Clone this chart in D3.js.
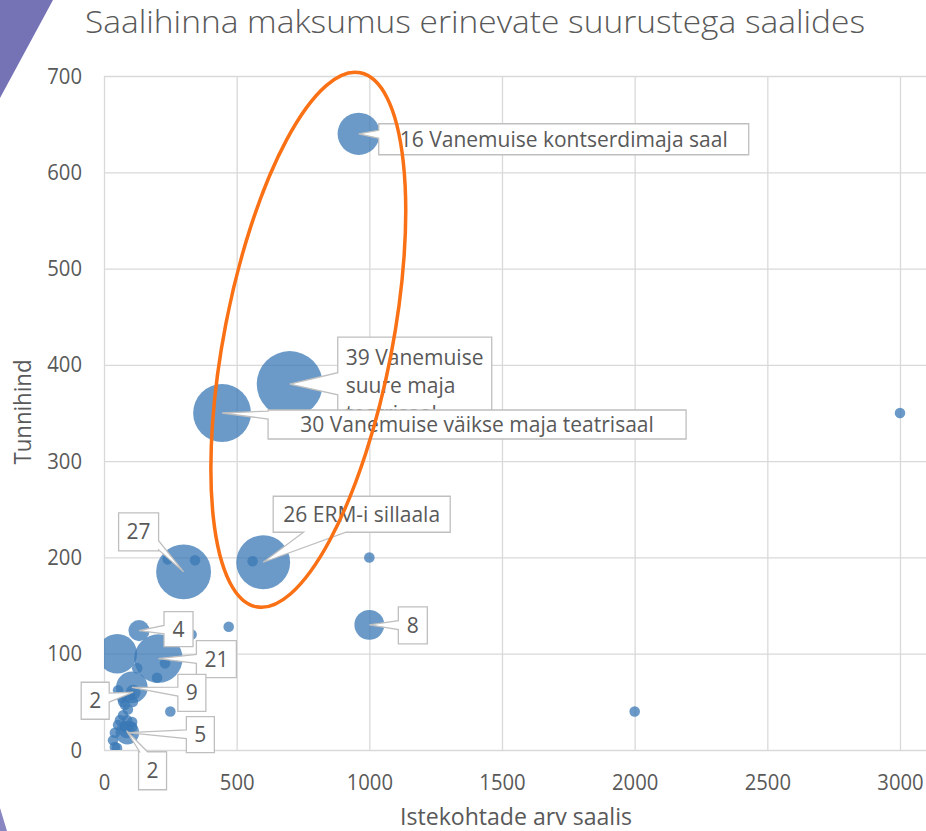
<!DOCTYPE html>
<html>
<head>
<meta charset="utf-8">
<script src="https://cdn.jsdelivr.net/npm/d3@7"></script>
<style>
    body { margin: 0; background: #fff; }
    text { font-family: "Open Sans", sans-serif; fill: #595959; }
</style>
</head>
<body>
<div id="chart"></div>
<script>
"use strict";

// hall data: seats in hall, hourly price, bubble size (shown in label), hall name
const seats = [960, 700, 445, 600, 300, 1000, 132, 205, 105, 110, 88, 85, 50,
    240, 343, 560, 1000, 470, 3000, 2000, 250, 200, 230, 330, 125,
    53, 68, 72, 98, 109, 79, 90, 72, 60, 87, 106, 53, 79, 106, 41, 34, 41, 49];
const prices = [640, 380, 350, 195, 185, 130, 124, 95, 65, 60, 18, 20, 100,
    198, 197, 196, 200, 128, 350, 40, 40, 75, 90, 120, 85,
    62, 54, 50, 57, 50, 47, 42, 36, 31, 31, 29, 26, 24, 24, 18, 10, 3, 2];
const sizes = [16, 39, 30, 26, 27, 8, 4, 21, 9, 2, 5, 2, 14,
    1, 1, 1, 1, 1, 1, 1, 1, 1, 1, 1, 1,
    1, 1, 1, 1, 1, 1, 1, 1, 1, 1, 1, 1, 1, 1, 1, 1, 1, 1];
// null = no data label, "" = label shows only the number
const names = ["Vanemuise kontserdimaja saal", "Vanemuise suure maja teatrisaal",
    "Vanemuise väikse maja teatrisaal", "ERM-i sillaala", "", "", "", "", "", "", "", ""];

const xTicks = [0, 500, 1000, 1500, 2000, 2500, 3000];
const yTicks = [0, 100, 200, 300, 400, 500, 600, 700];

const title = "Saalihinna maksumus erinevate suurustega saalides";
const xTitle = "Istekohtade arv saalis";
const yTitle = "Tunnihind";

// layout of the callout boxes (pixel offset from the bubble centre)
const callouts = [
    { dx: 20, dy: -10, w: 370, h: 31 },
    { dx: 48, dy: -47, w: 154, h: 92 },
    { dx: 46, dy: -3, w: 418, h: 29 },
    { dx: 10, dy: -66, w: 177, h: 36 },
    { dx: -65, dy: -59, w: 40, h: 38 },
    { dx: 29, dy: -18, w: 29, h: 37 },
    { dx: 25, dy: -19, w: 29, h: 35 },
    { dx: 38, dy: -18, w: 40, h: 37 },
    { dx: 46, dy: -13, w: 28, h: 37 },
    { dx: -52, dy: -10, w: 28, h: 37 },
    { dx: 59, dy: -16, w: 28, h: 36 },
    { dx: 12, dy: 21, w: 28, h: 38 }
];

// orange highlight ring (centre in data units)
const ring = { seats: 770, price: 426, rx: 84, ry: 272, angle: 11 };

const msm = {
    width: 926,
    height: 831,
    left: 104,
    right: 926,
    top: 76,
    bottom: 750
};

const svg = d3.select("#chart")
    .append("svg")
    .attr("width", msm.width)
    .attr("height", msm.height);

// purple slide decoration in the corners
svg.append("path")
    .attr("d", "M0,0 L53,0 L0,98 Z")
    .attr("fill", "#7672b6");
svg.append("path")
    .attr("d", "M0,808 L7,831 L0,831 Z")
    .attr("fill", "#8a86c2");

let xScale = d3.scaleLinear().domain([0, 3000]).range([msm.left, 900]);
let yScale = d3.scaleLinear().domain([0, 700]).range([msm.bottom, msm.top]);
let rScale = d3.scaleSqrt().domain([0, 39]).range([0, 33]);

// squeeze text a bit, the original looks condensed
function squeeze(sel, f) {
    sel.each(function () {
        let len = this.getComputedTextLength();
        d3.select(this).attr("textLength", len * f).attr("lengthAdjust", "spacingAndGlyphs");
    });
}

// gridlines
svg.append("g")
    .attr("transform", "translate(0," + msm.bottom + ")")
    .call(d3.axisBottom(xScale).tickValues(xTicks).tickSize(-(msm.bottom - msm.top)).tickFormat(""));
svg.append("g")
    .attr("transform", "translate(" + msm.left + ",0)")
    .call(d3.axisLeft(yScale).tickValues(yTicks).tickSize(-(msm.right - msm.left)).tickFormat(""));
svg.selectAll(".domain").remove();
svg.selectAll(".tick line").attr("stroke", "#d9d9d9").attr("stroke-width", 1.3);

// tick labels
let xAxis = svg.append("g")
    .attr("transform", "translate(0," + msm.bottom + ")")
    .call(d3.axisBottom(xScale).tickValues(xTicks).tickSize(0).tickPadding(24).tickFormat(d3.format("d")));
let yAxis = svg.append("g")
    .attr("transform", "translate(" + msm.left + ",0)")
    .call(d3.axisLeft(yScale).tickValues(yTicks).tickSize(0).tickPadding(22).tickFormat(d3.format("d")));
xAxis.select(".domain").remove();
yAxis.select(".domain").remove();
svg.selectAll(".tick text")
    .attr("font-family", "Open Sans, sans-serif")
    .attr("font-size", 22)
    .attr("fill", "#595959")
    .call(squeeze, 0.92);

// bubbles
let data = seats.map((s, i) => ({ seats: s, price: prices[i], size: sizes[i], name: names[i], idx: i }));
let drawOrder = data.slice().sort((a, b) => b.size - a.size);

svg.append("clipPath").attr("id", "plotClip")
    .append("rect")
    .attr("x", msm.left).attr("y", msm.top)
    .attr("width", msm.right - msm.left).attr("height", msm.bottom - msm.top);

svg.append("g")
    .attr("clip-path", "url(#plotClip)")
    .selectAll("circle")
    .data(drawOrder)
    .enter()
    .append("circle")
    .attr("cx", d => xScale(d.seats))
    .attr("cy", d => yScale(d.price))
    .attr("r", d => rScale(d.size))
    .attr("fill", "#3a78b6")
    .attr("fill-opacity", 0.75);

// callout outline: box plus a wedge pointing at the bubble
function calloutPath(x0, y0, w, h, tx, ty) {
    let x1 = x0 + w, y1 = y0 + h;
    let cx = x0 + w / 2, cy = y0 + h / 2;
    let vx = tx - cx, vy = ty - cy;
    let side, pos;
    let tX = vx !== 0 ? (vx > 0 ? (x1 - cx) / vx : (x0 - cx) / vx) : Infinity;
    let tY = vy !== 0 ? (vy > 0 ? (y1 - cy) / vy : (y0 - cy) / vy) : Infinity;
    if (tX < tY) { side = vx > 0 ? "right" : "left"; pos = cy + vy * tX; }
    else { side = vy > 0 ? "bottom" : "top"; pos = cx + vx * tY; }
    let edgeLen = (side === "left" || side === "right") ? h : w;
    let hw = Math.max(4, edgeLen * 0.12);
    let lo = (side === "left" || side === "right") ? y0 : x0;
    let hi = lo + edgeLen;
    pos = Math.min(Math.max(pos, lo + hw + 1), hi - hw - 1);
    let p = [[x0, y0]];
    if (side === "top") p.push([pos - hw, y0], [tx, ty], [pos + hw, y0]);
    p.push([x1, y0]);
    if (side === "right") p.push([x1, pos - hw], [tx, ty], [x1, pos + hw]);
    p.push([x1, y1]);
    if (side === "bottom") p.push([pos + hw, y1], [tx, ty], [pos - hw, y1]);
    p.push([x0, y1]);
    if (side === "left") p.push([x0, pos + hw], [tx, ty], [x0, pos - hw]);
    return "M" + p.map(q => q[0] + "," + q[1]).join("L") + "Z";
}

let labelG = svg.append("g");
data.filter(d => d.name !== null && d.name !== undefined).forEach(d => {
    let c = callouts[d.idx];
    let px = xScale(d.seats), py = yScale(d.price);
    let bx = px + c.dx, by = py + c.dy;
    let g = labelG.append("g");
    g.append("path")
        .attr("d", calloutPath(bx, by, c.w, c.h, px, py))
        .attr("fill", "#fff")
        .attr("stroke", "#bfbfbf")
        .attr("stroke-width", 1.3);
    let label = d.name === "" ? String(d.size) : d.size + " " + d.name;

    // wrap words to the box width
    let words = label.split(" ");
    let lines = [];
    let cur = "";
    let probe = g.append("text").attr("font-size", 21);
    words.forEach(wd => {
        let test = cur ? cur + " " + wd : wd;
        probe.text(test);
        if (probe.node().getComputedTextLength() > c.w - 10 && cur) {
            lines.push(cur);
            cur = wd;
        } else {
            cur = test;
        }
    });
    lines.push(cur);
    probe.remove();

    if (lines.length === 1) {
        g.append("text")
            .attr("x", bx + c.w / 2)
            .attr("y", by + c.h / 2 + 7.5)
            .attr("text-anchor", "middle")
            .attr("font-size", 21)
            .text(lines[0]);
    } else {
        lines.forEach((ln, i) => {
            g.append("text")
                .attr("x", bx + 8)
                .attr("y", by + 28 + i * 28)
                .attr("font-size", 21)
                .text(ln);
        });
    }
});

// orange ring
svg.append("ellipse")
    .attr("transform", "translate(" + xScale(ring.seats) + "," + yScale(ring.price) + ") rotate(" + ring.angle + ")")
    .attr("rx", ring.rx)
    .attr("ry", ring.ry)
    .attr("fill", "none")
    .attr("stroke", "#fa7014")
    .attr("stroke-width", 3.5);

// titles
svg.append("text")
    .attr("x", 85)
    .attr("y", 33)
    .attr("font-size", 31)
    .attr("font-weight", 300)
    .attr("textLength", 780)
    .attr("lengthAdjust", "spacingAndGlyphs")
    .text(title);

svg.append("text")
    .attr("x", 516)
    .attr("y", 825)
    .attr("text-anchor", "middle")
    .attr("font-size", 24)
    .attr("textLength", 232)
    .attr("lengthAdjust", "spacingAndGlyphs")
    .text(xTitle);

svg.append("text")
    .attr("transform", "translate(31,412) rotate(-90)")
    .attr("text-anchor", "middle")
    .attr("font-size", 24)
    .attr("textLength", 105)
    .attr("lengthAdjust", "spacingAndGlyphs")
    .text(yTitle);
</script>
</body>
</html>
